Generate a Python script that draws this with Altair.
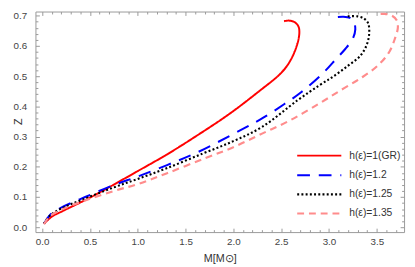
import altair as alt
import pandas as pd

series_names = ["h(ε)=1(GR)", "h(ε)=1.2", "h(ε)=1.25", "h(ε)=1.35"]

red_M = [0.02, 0.1, 0.21, 0.5, 1.0, 1.3, 1.612, 1.953, 2.26, 2.5, 2.6, 2.67, 2.69, 2.68, 2.64, 2.58, 2.53]
red_Z = [0.012, 0.035, 0.053, 0.098, 0.186, 0.24, 0.302, 0.374, 0.448, 0.511, 0.554, 0.608, 0.645, 0.665, 0.679, 0.684, 0.682]

blue_M = [0.02, 0.08, 0.2, 0.45, 0.75, 1.0, 1.3, 1.61, 2.055, 2.3, 2.534, 2.705, 2.94, 3.08, 3.17, 3.25, 3.275, 3.26, 3.22, 3.15, 3.06]
blue_Z = [0.012, 0.04, 0.065, 0.10, 0.14, 0.168, 0.205, 0.246, 0.318, 0.36, 0.408, 0.446, 0.511, 0.559, 0.59, 0.625, 0.655, 0.68, 0.693, 0.697, 0.695]

black_M = [0.02, 0.08, 0.2, 0.45, 0.75, 1.0, 1.3, 1.68, 2.0, 2.3, 2.67, 2.9, 3.05, 3.2, 3.32, 3.39, 3.42, 3.41, 3.37, 3.3, 3.18]
black_Z = [0.012, 0.038, 0.062, 0.095, 0.132, 0.16, 0.195, 0.244, 0.285, 0.332, 0.42, 0.47, 0.5, 0.535, 0.565, 0.6, 0.64, 0.675, 0.69, 0.698, 0.698]

pink_M = [0.02, 0.075, 0.2, 0.45, 0.75, 1.0, 1.3, 1.7, 2.0, 2.3, 2.6, 2.9, 3.13, 3.34, 3.51, 3.63, 3.69, 3.72, 3.71, 3.66, 3.58, 3.5]
pink_Z = [0.01, 0.035, 0.058, 0.089, 0.12, 0.143, 0.178, 0.228, 0.265, 0.31, 0.355, 0.41, 0.455, 0.495, 0.535, 0.58, 0.625, 0.66, 0.684, 0.70, 0.706, 0.705]

x_major = [0.0, 0.5, 1.0, 1.5, 2.0, 2.5, 3.0, 3.5]
y_major = [0.0, 0.1, 0.2, 0.3, 0.4, 0.5, 0.6, 0.7]
x_minor = [round(i * 0.1, 2) for i in range(1, 38) if i % 5 != 0]
y_minor = [round(i * 0.02, 2) for i in range(1, 36) if i % 5 != 0]

colors = ["#ff0000", "#0000ff", "#000000", "#ff8c8c"]
dashes = [[1, 0], [13, 9], [2, 2.3], [7, 5]]
widths = [2, 2.2, 2.6, 2]

rows = []
for name, Ms, Zs in zip(series_names, [red_M, blue_M, black_M, pink_M], [red_Z, blue_Z, black_Z, pink_Z]):
    for i, (m, z) in enumerate(zip(Ms, Zs)):
        rows.append({"series": name, "M": m, "Z": z, "i": i})
df = pd.DataFrame(rows)

xs = alt.Scale(domain=[-0.07, 3.785], nice=False, zero=False)
ys = alt.Scale(domain=[-0.016, 0.714], nice=False, zero=False)

def ax(orient, values, size, labels, title=None, **kw):
    args = dict(orient=orient, values=values, tickSize=size, offset=-size, labels=labels,
                domain=False, grid=False, tickColor="#999999", tickWidth=1)
    args["title"] = title
    args.update(kw)
    return alt.Axis(**args)

leg = alt.Legend(title=None, orient="none", legendX=279, legendY=137, padding=0,
                 symbolType="M-2.5,0H2.5", symbolSize=324, symbolStrokeWidth=2,
                 labelOffset=20, rowPadding=3.5)

lines = alt.Chart(df).mark_line(interpolate="catmull-rom", clip=True).encode(
    x=alt.X("M:Q", scale=xs, axis=ax("bottom", x_major, 4, True, "M[M⊙]", format=".1f",
                                     labelPadding=5, titlePadding=6)),
    y=alt.Y("Z:Q", scale=ys, axis=ax("left", y_major, 4, True, "Z", format=".1f",
                                     labelPadding=9, titleX=-27, titleY=112, titleAngle=270,
                                     titleBaseline="top", titleAlign="center")),
    color=alt.Color("series:N", scale=alt.Scale(domain=series_names, range=colors), legend=leg),
    strokeDash=alt.StrokeDash("series:N", scale=alt.Scale(domain=series_names, range=dashes), legend=leg),
    strokeWidth=alt.StrokeWidth("series:N", scale=alt.Scale(domain=series_names, range=widths), legend=None),
    order="i:Q",
)

def ghost(xa, ya):
    return alt.Chart(df).mark_line(opacity=0).encode(
        x=alt.X("M:Q", scale=xs, axis=xa),
        y=alt.Y("Z:Q", scale=ys, axis=ya),
        detail="series:N",
        order="i:Q",
    )

g1 = ghost(ax("bottom", x_minor, 2.5, False), ax("left", y_minor, 2.5, False))
g2 = ghost(ax("top", x_major, 4, False), ax("right", y_major, 4, False))
g3 = ghost(ax("top", x_minor, 2.5, False), ax("right", y_minor, 2.5, False))

chart = alt.layer(lines, g1, g2, g3).resolve_axis(x="independent", y="independent").properties(
    width=376, height=225,
    autosize=alt.AutoSizeParams(type="none"),
    padding={"left": 28, "top": 1, "right": 3, "bottom": 33},
).configure_view(stroke="#999999", strokeWidth=1).configure_axis(
    labelFont="Liberation Sans", labelFontSize=10, labelColor="#444444",
    titleFont="Liberation Sans", titleFontSize=11, titleFontWeight="normal", titleColor="#333333",
).configure_legend(
    labelFont="Liberation Sans", labelFontSize=10.5, labelColor="#333333",
)

chart.save("out.html", embed_options={"renderer": "svg", "actions": False})
